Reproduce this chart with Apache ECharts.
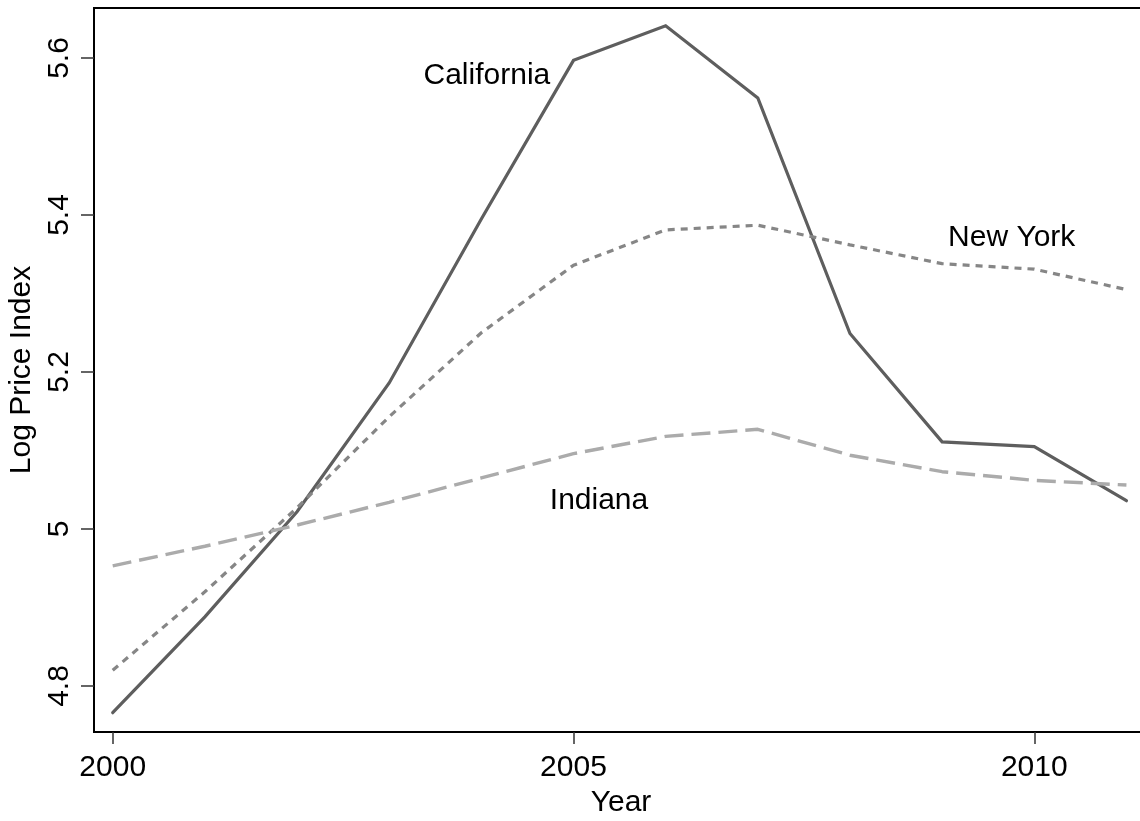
<!DOCTYPE html>
<html>
<head>
<meta charset="utf-8">
<script src="https://cdn.jsdelivr.net/npm/echarts@6/dist/echarts.min.js"></script>
<style>
html,body{margin:0;padding:0;background:#fff;}
#chart{width:1140px;height:821px;}
</style>
</head>
<body>
<div id="chart"></div>
<script>
const years = [2000,2001,2002,2003,2004,2005,2006,2007,2008,2009,2010,2011];
const california = [4.766,4.888,5.022,5.186,5.395,5.597,5.641,5.549,5.249,5.111,5.105,5.036];
const newYork    = [4.820,4.920,5.027,5.143,5.250,5.336,5.381,5.387,5.362,5.338,5.331,5.305];
const indiana    = [4.953,4.978,5.005,5.034,5.065,5.096,5.118,5.127,5.094,5.073,5.062,5.056];
const xTicks = [2000,2005,2010];
const yTicks = [4.8,5,5.2,5.4,5.6];
const labelNames = ['California','New York','Indiana'];
const labelX = [2004.06,2009.755,2005.277];
const labelY = [5.578,5.371,5.036];

const font = '"Liberation Sans", Arial, Helvetica, sans-serif';
const zip = (xs, ys) => xs.map((x, i) => [x, ys[i]]);

const chart = echarts.init(document.getElementById('chart'), null, {renderer:'canvas'});
chart.setOption({
  animation: false,
  backgroundColor: '#ffffff',
  grid: {left: 94, top: 8, bottom: 89, right: -8, containLabel: false, outerBoundsMode: 'none',
         show: true, borderColor: '#000', borderWidth: 2, backgroundColor: 'transparent'},
  xAxis: {
    type: 'value', min: 1999.797, max: 2011.234,
    name: 'Year', nameLocation: 'middle', nameGap: 53,
    nameTextStyle: {fontFamily: font, fontSize: 30, color: '#000'},
    axisLine: {show: false},
    splitLine: {show: false},
    axisTick: {show: true, length: 12, customValues: xTicks, lineStyle: {color: '#333', width: 1.5}},
    axisLabel: {customValues: xTicks, margin: 21, fontFamily: font, fontSize: 30, color: '#000',
                formatter: v => String(v)}
  },
  yAxis: {
    type: 'value', min: 4.7414, max: 5.6637,
    name: 'Log Price Index', nameLocation: 'middle', nameGap: 54, nameRotate: 90,
    nameTextStyle: {fontFamily: font, fontSize: 30, color: '#000'},
    axisLine: {show: false},
    splitLine: {show: false},
    axisTick: {show: true, length: 13, customValues: yTicks, lineStyle: {color: '#333', width: 1.5}},
    axisLabel: {customValues: yTicks, rotate: 90, margin: 19, fontFamily: font, fontSize: 30, color: '#000',
                formatter: v => String(v)}
  },
  series: [
    {type: 'line', name: 'California', data: zip(years, california), symbol: 'none',
     lineStyle: {color: '#5e5e5e', width: 3.2, cap: 'round', join: 'miter'}},
    {type: 'line', name: 'New York', data: zip(years, newYork), symbol: 'none',
     lineStyle: {color: '#868686', width: 3.2, type: [7, 6], cap: 'butt'}},
    {type: 'line', name: 'Indiana', data: zip(years, indiana), symbol: 'none',
     lineStyle: {color: '#ababab', width: 3.4, type: [19, 8], cap: 'butt'}},
    {type: 'custom', name: 'labels',
     data: labelNames.map((n, i) => [labelX[i], labelY[i], i]),
     renderItem: (params, api) => {
       const p = api.coord([api.value(0), api.value(1)]);
       return {type: 'text', x: p[0], y: p[1],
               style: {text: labelNames[api.value(2)], fill: '#000', fontFamily: font, fontSize: 30,
                       align: 'center', verticalAlign: 'middle'}};
     }}
  ]
});
</script>
</body>
</html>
